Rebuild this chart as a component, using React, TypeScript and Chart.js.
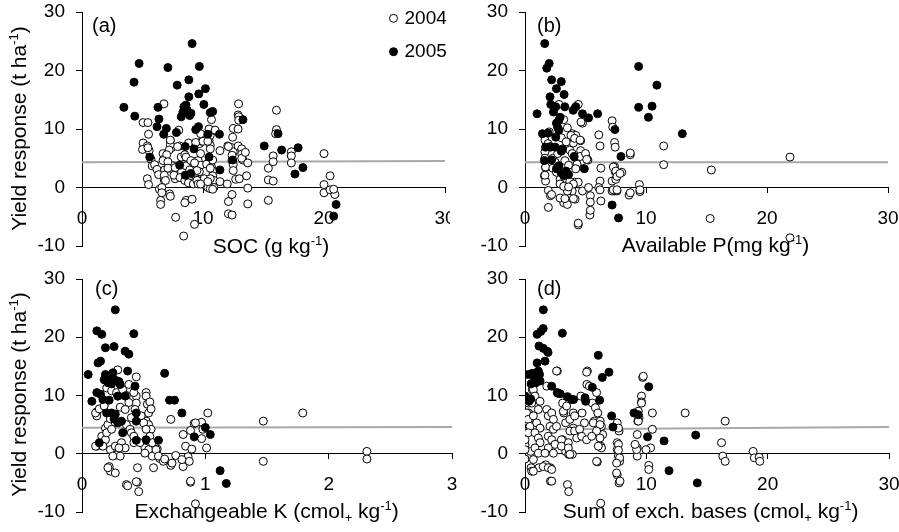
import React, { useEffect, useRef } from "react";
import { Chart, registerables } from "chart.js";
Chart.register(...registerables);

const FONT = '"Liberation Sans", Arial, Helvetica, sans-serif';

type Pt = [number, number];
type Seg = { t: string; s?: "sup" | "sub" };

// ---- tick labels ----
const Y_TICKS = [-10, 0, 10, 20, 30];
const X_TICKS_30 = [0, 10, 20, 30];
const X_TICKS_3 = [0, 1, 2, 3];

// ---- (a) SOC ----
const SOC_2004: Pt[] = [
  [5.05,11.1],[5.45,11.1],[5.5,9.1],[5.05,7.6],[5.4,7.1],[5.0,6.5],[5.55,6.3],[5.7,4.8],[5.8,3.7],[5.4,1.5],[5.5,0.5],[6.0,3.9],[6.2,3.1],[6.33,2.2],[6.4,-0.3],[6.5,-2.2],[6.5,-2.9],[6.7,5.8],[6.75,4.8],[6.83,3.0],[6.8,1.3],[6.8,2.1],[6.77,14.3],[7.24,-1.1],[7.3,8.0],[7.4,6.8],[7.3,7.3],[7.5,3.7],[7.6,2.6],[7.7,1.5],[7.74,-5.1],[8.4,-8.3],[8.0,9.8],[8.07,7.1],[8.2,5.2],[8.5,5.6],[8.6,-2.2],[9.1,-2.0],[9.3,-6.3],[8.6,3.7],[8.9,3.0],[8.7,1.8],[9.0,1.3],[9.4,1.3],[9.3,4.4],[9.6,4.6],[9.8,3.8],[9.7,7.5],[9.9,7.9],[9.8,5.8],[9.8,9.2],[9.7,2.7],[9.7,1.3],[10.1,0.5],[10.1,1.5],[10.3,4.0],[10.4,0.0],[10.5,8.0],[10.6,7.2],[10.6,6.6],[10.6,8.9],[10.5,10.0],[10.7,11.6],[10.7,3.5],[10.8,2.8],[10.8,2.0],[10.9,1.2],[10.9,0.0],[10.8,4.7],[10.6,-0.2],[10.8,-0.3],[11.4,6.3],[11.0,9.7],[11.4,1.0],[12.05,7.1],[12.0,0.6],[12.1,-2.4],[12.1,-4.5],[12.4,-4.7],[12.4,-1.2],[12.45,8.6],[12.5,10.1],[12.4,6.8],[12.5,6.1],[12.4,5.5],[12.4,4.6],[12.5,3.9],[12.5,2.9],[12.94,14.3],[12.9,12.4],[12.9,10.0],[12.9,7.1],[13.2,6.6],[13.2,5.7],[13.3,4.7],[12.7,1.4],[13.0,1.5],[13.6,2.0],[13.7,-0.1],[13.7,-2.8],[15.4,3.3],[15.4,-2.2],[15.4,1.3],[15.8,1.1],[15.8,5.4],[15.8,4.4],[16.07,13.2],[16.07,9.9],[16.0,9.2],[17.3,6.1],[17.3,5.4],[17.3,4.2],[20.0,5.8],[20.0,0.5],[20.0,-0.9],[20.5,2.0],[20.5,-0.4],[20.9,-1.2],[20.8,-0.3],
  [12.95,12.1],[12.95,11.5],[11.0,9.8],[7.3,8.1],[5.45,6.8],[7.2,6.4],[7.9,7.0],[8.8,7.6],[9.4,7.7],[10.0,7.9],[10.4,7.9],[12.1,7.0],[13.2,5.0],[7.0,5.6],[6.7,4.6],[7.1,4.4],[7.1,3.3],[7.7,3.4],[8.6,5.2],[9.0,4.6],[9.3,4.2],[9.5,2.9],[10.6,3.3],[10.6,1.5],[6.9,1.2],[7.6,2.1],[8.1,1.7],[8.5,1.2],[8.8,0.8],[9.2,0.6],[9.5,1.2],[9.6,0.6],[9.8,0.6],[10.4,1.0],[6.6,0.0],[6.6,-0.9],[7.3,-1.5],[8.5,-2.6],[13.7,4.2],[13.5,6.0]
];
const SOC_2005: Pt[] = [
  [3.46,13.7],[4.36,12.2],[4.3,18.0],[4.72,21.2],[6.28,13.7],[6.36,11.7],[6.2,10.4],[5.6,5.2],[6.75,9.1],[6.97,10.1],[7.1,20.5],[7.8,9.4],[7.87,17.5],[8.2,12.1],[8.34,12.9],[8.42,13.8],[8.6,14.1],[8.83,18.4],[8.83,15.5],[9.0,12.7],[9.1,24.6],[8.07,3.8],[8.53,7.0],[8.53,2.1],[9.0,2.4],[9.25,6.6],[9.4,9.9],[9.63,10.4],[9.65,16.0],[9.7,20.7],[10.07,14.2],[10.2,16.9],[10.4,9.1],[10.5,5.2],[10.6,12.8],[10.8,13.0],[11.36,9.1],[11.4,3.0],[12.45,4.7],[13.3,11.6],[15.06,7.1],[16.2,9.2],[16.5,6.4],[17.86,6.8],[17.6,2.3],[18.26,3.4],[21.0,-2.9],[20.8,-4.9],[8.7,13.2],[8.9,12.3]
];
const SOC_TREND: Pt[] = [[0, 4.3], [30, 4.55]];

// ---- (b) Available P ----
const AVP_2004: Pt[] = [
  [1.77,7.5],[1.7,3.4],[1.6,2.0],[1.7,1.1],[1.93,-0.5],[1.93,-3.4],[2.1,-1.4],[2.8,14.2],[4.4,14.2],[3.2,11.6],[4.75,11.0],[3.9,9.2],[4.2,8.9],[4.6,8.0],[4.0,7.6],[4.6,6.3],[5.0,5.6],[5.2,4.7],[4.7,4.5],[4.3,4.0],[4.1,0.9],[4.4,0.9],[4.75,-0.6],[5.25,0.0],[3.9,-0.6],[3.5,-0.6],[3.4,-2.3],[3.2,-2.6],[3.5,-2.9],[4.14,-2.0],[5.4,-1.4],[5.4,-2.5],[4.4,-6.4],[5.36,-4.7],[6.27,-2.3],[6.1,9.0],[6.2,7.1],[6.27,3.3],[6.2,1.1],[6.1,0.0],[7.2,11.4],[7.25,10.3],[7.4,7.7],[7.45,6.9],[7.4,3.6],[7.45,2.7],[7.2,1.1],[7.5,1.4],[7.4,-0.6],[7.2,-0.6],[7.6,-0.6],[8.0,2.6],[8.7,5.6],[8.6,-1.3],[9.45,0.5],[9.5,-0.7],[11.46,7.1],[11.46,3.9],[15.4,3.0],[15.3,-5.3],[21.9,5.2],[21.9,-8.6],
  [4.63,11.2],[3.8,8.9],[4.1,8.4],[4.55,8.1],[1.65,8.1],[1.9,7.5],[2.1,7.0],[1.65,6.1],[1.65,5.0],[1.7,3.5],[1.65,2.1],[2.3,5.0],[2.5,4.3],[2.3,3.3],[2.6,2.6],[2.9,1.4],[3.2,0.6],[3.7,6.4],[3.9,5.8],[4.1,5.2],[4.55,5.3],[5.0,5.8],[5.1,4.8],[3.4,1.5],[3.7,1.0],[4.0,0.6],[2.9,0.6],[3.2,0.2],[3.6,0.1],[2.2,-1.2],[2.9,-1.8],[3.3,-1.9],[4.0,-1.9],[5.4,-3.9],[6.2,-0.4],[7.3,3.5],[7.5,2.8],[7.6,1.9],[7.85,2.4],[7.3,-0.4],[7.6,-0.4],[8.7,5.9],[8.7,-0.9],[9.5,-0.4],[4.4,-6.1],
  [3.0,8.5],[3.4,7.8],[2.7,5.8],[3.3,4.6],[3.6,3.8],[4.2,3.2],[2.0,9.5],[3.5,10.2]
];
const AVP_2005: Pt[] = [
  [1.63,24.6],[1.8,20.4],[2.0,21.2],[2.2,18.4],[3.0,18.1],[2.6,16.9],[3.23,15.9],[2.07,15.5],[1.0,12.6],[2.13,14.2],[2.35,12.9],[2.54,13.8],[3.29,13.8],[3.98,13.2],[4.2,13.8],[4.75,12.6],[5.25,11.9],[6.0,12.6],[9.39,20.7],[10.9,17.5],[9.39,13.7],[10.5,13.9],[10.2,12.0],[13.0,9.2],[7.43,9.9],[7.93,5.3],[7.2,-3.0],[7.73,-5.2],[1.44,9.2],[1.9,9.3],[2.7,10.3],[2.8,9.8],[2.8,11.5],[2.9,12.0],[2.6,11.0],[2.54,8.6],[1.7,6.9],[2.1,6.9],[2.5,6.9],[3.1,6.6],[4.06,5.3],[4.9,3.2],[1.6,4.6],[2.8,3.7],[3.0,2.5],[3.2,2.0],[3.4,2.8],[2.6,3.2],[3.6,2.2],[2.2,4.7],[3.0,6.2]
];
const AVP_TREND: Pt[] = [[0, 4.3], [30, 4.3]];

// ---- (c) Exchangeable K ----
const EXK_2004: Pt[] = [
  [0.12,7.2],[0.12,6.5],[0.12,1.3],[0.16,3.0],[0.19,2.4],[0.22,-2.2],[0.23,-3.0],[0.27,-3.3],[0.29,14.4],[0.36,-5.3],[0.37,-5.5],[0.45,-2.4],[0.45,-4.9],[0.46,-6.5],[0.44,13.2],[0.38,11.9],[0.44,9.9],[0.44,8.7],[0.43,7.6],[0.52,10.5],[0.53,8.5],[0.54,7.0],[0.52,5.6],[0.54,5.0],[0.56,4.2],[0.51,1.0],[0.54,0.7],[0.57,-0.4],[0.58,-2.4],[0.61,0.8],[0.63,-0.8],[0.66,-1.3],[0.72,5.9],[0.76,-0.3],[0.72,-2.0],[0.82,-2.2],[0.82,3.3],[0.84,1.3],[0.86,-0.5],[0.87,-1.3],[0.88,-4.9],[0.88,4.0],[0.92,-8.6],[0.91,5.2],[0.97,5.4],[0.98,4.2],[0.97,2.6],[1.01,1.0],[1.02,7.0],[1.47,5.6],[1.47,-1.3],[1.79,7.0],[2.31,0.4],[2.31,-0.9],
  [0.11,7.0],[0.11,1.3],[0.19,4.4],[0.21,5.0],[0.2,3.6],[0.24,4.2],[0.17,1.3],[0.23,0.7],[0.27,1.3],[0.28,-0.2],[0.31,-0.4],[0.25,-0.4],[0.21,-2.4],[0.29,9.9],[0.32,10.2],[0.42,10.5],[0.36,5.0],[0.39,4.2],[0.4,3.6],[0.42,3.0],[0.42,1.9],[0.32,1.9],[0.35,1.0],[0.3,1.0],[0.48,6.5],[0.5,5.3],[0.52,4.2],[0.55,3.0],[0.57,1.9],[0.6,0.7],[0.52,9.9],[0.55,8.9],[0.56,7.7],[0.47,1.9],[0.51,0.1],[0.62,-0.4],[0.67,-0.9],[0.73,-1.6],[0.81,-1.0],[0.89,0.8],[0.92,5.3],[0.88,-4.7],[0.44,-4.8],
  [0.2,11.3],[0.24,10.8],[0.28,10.5],[0.33,11.0],[0.36,10.0],[0.38,8.8],[0.31,8.0],[0.35,7.6],[0.4,6.2],[0.14,7.7],[0.18,8.2],[0.23,6.0]
];
const EXK_2005: Pt[] = [
  [0.05,13.6],[0.08,9.0],[0.12,21.1],[0.16,20.5],[0.13,15.6],[0.15,15.9],[0.12,10.5],[0.15,10.2],[0.14,1.9],[0.19,18.2],[0.27,24.7],[0.26,18.4],[0.35,17.6],[0.38,17.1],[0.42,20.6],[0.37,14.2],[0.31,11.9],[0.43,11.6],[0.18,12.7],[0.22,13.2],[0.19,13.6],[0.25,13.9],[0.26,12.8],[0.21,12.2],[0.28,12.5],[0.24,12.0],[0.3,12.4],[0.17,9.3],[0.22,9.2],[0.2,7.0],[0.24,7.0],[0.27,6.8],[0.29,9.9],[0.35,9.9],[0.32,5.6],[0.33,3.6],[0.44,7.0],[0.44,5.6],[0.44,2.3],[0.52,2.4],[0.62,2.3],[0.67,13.8],[0.71,9.2],[0.75,9.2],[0.81,7.0],[0.91,2.9],[1.0,4.5],[1.04,3.3],[1.12,-2.9],[1.17,-5.1],[0.26,6.0],[0.29,5.3]
];
const EXK_TREND: Pt[] = [[0, 4.45], [3, 4.6]];

// ---- (d) Sum of exchangeable bases ----
const SEB_2004: Pt[] = [
  [0.0,1.5],[0.0,-0.9],[0.3,8.7],[0.3,7.0],[0.47,6.5],[0.3,5.3],[0.47,0.4],[0.5,-2.4],[0.55,-3.0],[0.6,11.0],[0.74,10.2],[1.15,-2.4],[1.7,-1.9],[2.1,-2.4],[2.1,-4.7],[2.66,14.2],[3.1,8.7],[3.2,7.0],[3.35,5.3],[3.1,2.4],[3.2,1.3],[3.35,0.4],[3.6,-0.1],[3.5,-5.3],[3.6,-6.5],[4.6,9.9],[4.7,7.0],[4.9,5.3],[3.9,-0.1],[5.14,14.2],[5.1,11.9],[5.3,11.6],[5.55,8.7],[5.7,5.6],[5.8,7.9],[6.0,7.0],[5.96,-1.4],[6.2,5.6],[6.3,4.7],[6.4,3.3],[6.24,1.3],[6.3,1.0],[6.24,-8.5],[7.6,5.3],[7.75,3.9],[7.6,1.9],[7.6,0.7],[7.7,-0.4],[7.8,-1.3],[7.6,-3.6],[7.75,-5.0],[9.25,3.3],[9.25,1.0],[9.25,-0.4],[9.3,5.6],[9.4,6.2],[9.7,13.1],[9.6,9.9],[9.6,8.9],[10.2,-2.0],[10.35,1.0],[10.5,7.0],[10.5,4.2],[13.2,7.0],[16.2,1.9],[16.3,-0.4],[16.5,-1.3],[16.5,5.6],[18.8,0.4],[18.9,-0.7],[19.3,-0.6],[19.35,-1.3],
  [0.14,7.0],[0.27,5.9],[0.41,4.7],[0.27,3.6],[0.0,2.4],[0.0,0.7],[0.69,11.0],[0.82,9.9],[0.55,8.7],[1.24,9.0],[1.1,7.6],[0.69,6.5],[0.96,5.3],[1.24,4.4],[0.82,3.6],[1.1,2.7],[1.24,1.9],[0.82,1.0],[1.1,0.1],[0.69,-1.0],[0.69,-3.0],
  [1.79,11.6],[1.79,7.6],[1.92,6.5],[2.2,7.0],[2.34,5.9],[2.06,4.7],[2.34,4.2],[2.6,4.7],[1.92,3.0],[2.2,2.4],[2.47,1.6],[1.92,1.0],[1.65,0.1],[2.34,0.1],[1.5,-2.2],[1.92,-2.4],[2.2,-2.7],[2.2,-4.7],
  [3.16,7.3],[3.43,8.2],[3.98,7.0],[3.7,5.9],[4.1,6.5],[3.98,4.4],[3.7,3.9],[4.1,3.9],[4.5,4.2],[4.26,2.7],[3.57,1.9],[3.0,2.4],[3.0,1.3],[3.57,1.0],[3.7,-0.1],
  [2.6,14.2],[5.08,14.0],[5.9,10.5],[5.63,5.3],[6.18,5.0],[5.9,3.9],[6.18,2.7],[6.04,1.3],[4.67,3.0],[5.08,2.4],[5.5,3.0],[5.9,-1.3],
  [7.7,4.4],[7.7,1.6],[7.7,0.6],[7.8,-0.7],[7.55,-1.6],[7.55,-3.3],[7.83,-4.7],[9.2,0.7],[9.07,1.6],[9.34,5.6],[9.34,7.3],[9.75,13.3],[9.6,8.7],[9.97,0.7],[10.2,-2.7]
];
const SEB_2005: Pt[] = [
  [1.51,24.7],[1.0,20.5],[1.3,21.0],[1.5,21.5],[1.15,18.5],[1.5,18.1],[1.84,17.6],[1.65,15.9],[1.0,15.6],[3.08,20.7],[0.27,13.6],[0.6,13.8],[0.93,13.9],[1.2,13.6],[0.74,12.5],[1.1,12.8],[1.0,13.3],[2.2,11.6],[0.0,9.9],[0.33,9.0],[0.47,9.4],[2.66,10.5],[2.9,10.3],[3.85,9.3],[5.55,11.4],[5.0,9.0],[6.04,16.9],[6.37,13.1],[6.92,14.0],[6.15,9.2],[7.14,6.5],[7.25,4.6],[8.98,7.0],[9.34,6.7],[10.2,11.5],[10.1,2.9],[11.46,2.2],[14.07,3.2],[11.87,-2.9],[14.2,-5.0],[1.9,17.4],[0.5,12.0],[0.9,12.2],[1.24,12.5],[2.7,10.4],[3.5,9.8],[4.0,9.3],[4.95,9.6],[1.1,14.2]
];
const SEB_TREND: Pt[] = [[0, 4.15], [30, 4.6]];

// ---- texts ----
const Y_TITLE: Seg[] = [{ t: "Yield response (t ha" }, { t: "-1", s: "sup" }, { t: ")" }];
const LEGEND_LABELS = ["2004", "2005"];

interface PanelCfg {
  left: number; top: number; width: number; height: number;
  pad: [number, number, number]; // top, right, bottom
  yWidth: number;
  xTicks: number[];
  d04: Pt[]; d05: Pt[]; trend: Pt[];
  label: string; labelPos: [number, number];
  xTitle: Seg[]; xTitlePos: [number, number];
  yTitle?: Seg[];
  legend?: boolean;
}

const PANELS: PanelCfg[] = [
  {
    left: 0, top: 0, width: 450, height: 266, pad: [12, 3, 20], yWidth: 82,
    xTicks: X_TICKS_30, d04: SOC_2004, d05: SOC_2005, trend: SOC_TREND,
    label: "(a)", labelPos: [92, 26.5],
    xTitle: [{ t: "SOC (g kg" }, { t: "-1", s: "sup" }, { t: ")" }], xTitlePos: [271, 253],
    yTitle: Y_TITLE, legend: true,
  },
  {
    left: 450, top: 0, width: 449, height: 266, pad: [12, 11, 20], yWidth: 75,
    xTicks: X_TICKS_30, d04: AVP_2004, d05: AVP_2005, trend: AVP_TREND,
    label: "(b)", labelPos: [87, 26.5],
    xTitle: [{ t: "Available P(mg kg" }, { t: "-1", s: "sup" }, { t: ")" }], xTitlePos: [265.5, 252],
  },
  {
    left: 0, top: 266, width: 460, height: 266, pad: [13, 8, 20], yWidth: 82,
    xTicks: X_TICKS_3, d04: EXK_2004, d05: EXK_2005, trend: EXK_TREND,
    label: "(c)", labelPos: [95, 23.5],
    xTitle: [{ t: "Exchangeable K (cmol" }, { t: "+", s: "sub" }, { t: " kg" }, { t: "-1", s: "sup" }, { t: ")" }], xTitlePos: [266.7, 252],
    yTitle: Y_TITLE,
  },
  {
    left: 450, top: 266, width: 449, height: 266, pad: [13, 10, 20], yWidth: 75,
    xTicks: X_TICKS_30, d04: SEB_2004, d05: SEB_2005, trend: SEB_TREND,
    label: "(d)", labelPos: [87, 23.5],
    xTitle: [{ t: "Sum of exch. bases (cmol" }, { t: "+", s: "sub" }, { t: " kg" }, { t: "-1", s: "sup" }, { t: ")" }], xTitlePos: [260.5, 252],
  },
];

const TICK_SIZE = 19;
const TITLE_SIZE = 21;
const LABEL_SIZE = 20;
const RADIUS = 4;

function drawRich(ctx: CanvasRenderingContext2D, segs: Seg[], cx: number, baseline: number, size: number) {
  const big = `${size}px ${FONT}`;
  const small = `${Math.round(size * 0.64)}px ${FONT}`;
  let total = 0;
  const widths = segs.map((s) => {
    ctx.font = s.s ? small : big;
    const w = ctx.measureText(s.t).width;
    total += w;
    return w;
  });
  let x = cx - total / 2;
  ctx.textAlign = "left";
  ctx.textBaseline = "alphabetic";
  segs.forEach((s, i) => {
    ctx.font = s.s ? small : big;
    const dy = s.s === "sup" ? -size * 0.4 : s.s === "sub" ? size * 0.2 : 0;
    ctx.fillText(s.t, x, baseline + dy);
    x += widths[i];
  });
}

function Panel({ cfg }: { cfg: PanelCfg }) {
  const ref = useRef<HTMLCanvasElement>(null);
  useEffect(() => {
    const canvas = ref.current;
    if (!canvas) return;
    const textPlugin = {
      id: "panelText",
      afterDraw(chart: any) {
        const ctx: CanvasRenderingContext2D = chart.ctx;
        ctx.save();
        ctx.fillStyle = "#000";
        ctx.font = `${LABEL_SIZE}px ${FONT}`;
        ctx.textAlign = "left";
        ctx.textBaseline = "middle";
        ctx.fillText(cfg.label, cfg.labelPos[0], cfg.labelPos[1]);
        drawRich(ctx, cfg.xTitle, cfg.xTitlePos[0], cfg.xTitlePos[1], TITLE_SIZE);
        if (cfg.yTitle) {
          ctx.save();
          ctx.translate(26, 128.5);
          ctx.rotate(-Math.PI / 2);
          drawRich(ctx, cfg.yTitle, 0, 0, TITLE_SIZE);
          ctx.restore();
        }
        if (cfg.legend) {
          const items = [
            { y: 18.3, fill: "#fff" },
            { y: 51.7, fill: "#000" },
          ];
          items.forEach((it, i) => {
            ctx.beginPath();
            ctx.arc(393.5, it.y, RADIUS, 0, Math.PI * 2);
            ctx.fillStyle = it.fill;
            ctx.fill();
            ctx.lineWidth = 1;
            ctx.strokeStyle = "#000";
            ctx.stroke();
            ctx.fillStyle = "#000";
            ctx.font = `${TICK_SIZE}px ${FONT}`;
            ctx.textAlign = "left";
            ctx.textBaseline = "middle";
            ctx.fillText(LEGEND_LABELS[i], 404.5, it.y);
          });
        }
        ctx.restore();
      },
    };
    const xt = cfg.xTicks;
    const toXY = (a: Pt[]) => a.map(([x, y]) => ({ x, y }));
    const chart = new Chart(canvas, {
      type: "scatter",
      data: {
        datasets: [
          {
            type: "line",
            label: "trend",
            data: toXY(cfg.trend),
            borderColor: "#a8a8a8",
            borderWidth: 2,
            pointRadius: 0,
            fill: false,
            order: 3,
          } as any,
          {
            label: LEGEND_LABELS[0],
            data: toXY(cfg.d04),
            backgroundColor: "#ffffff",
            borderColor: "#000000",
            borderWidth: 1,
            pointRadius: RADIUS,
            order: 2,
          },
          {
            label: LEGEND_LABELS[1],
            data: toXY(cfg.d05),
            backgroundColor: "#000000",
            borderColor: "#000000",
            borderWidth: 1,
            pointRadius: RADIUS,
            order: 1,
          },
        ],
      },
      options: {
        animation: false,
        responsive: false,
        maintainAspectRatio: false,
        events: [],
        layout: { padding: { left: 0, top: cfg.pad[0], right: cfg.pad[1], bottom: cfg.pad[2] } },
        plugins: { legend: { display: false }, tooltip: { enabled: false }, title: { display: false } },
        scales: {
          x: {
            type: "linear",
            position: { y: 0 } as any,
            min: xt[0],
            max: xt[xt.length - 1],
            ticks: { stepSize: xt[1] - xt[0], padding: 15, color: "#000", font: { family: FONT, size: TICK_SIZE } },
            grid: { drawOnChartArea: false, drawTicks: true, tickLength: 5, color: "#000", lineWidth: 1 },
            border: { display: true, color: "#000", width: 1 },
            afterFit(s: any) {
              s.paddingLeft = 0;
              s.paddingRight = 0;
            },
          },
          y: {
            type: "linear",
            position: "left",
            min: Y_TICKS[0],
            max: Y_TICKS[Y_TICKS.length - 1],
            ticks: { stepSize: Y_TICKS[1] - Y_TICKS[0], padding: 11, color: "#000", font: { family: FONT, size: TICK_SIZE } },
            grid: { drawOnChartArea: false, drawTicks: true, tickLength: 6, color: "#000", lineWidth: 1 },
            border: { display: true, color: "#000", width: 1 },
            afterFit(s: any) {
              s.width = cfg.yWidth;
              s.paddingTop = 0;
              s.paddingBottom = 0;
            },
          },
        },
      } as any,
      plugins: [textPlugin],
    });
    return () => chart.destroy();
  }, [cfg]);
  return (
    <canvas
      ref={ref}
      width={cfg.width}
      height={cfg.height}
      style={{ position: "absolute", left: cfg.left, top: cfg.top, width: cfg.width, height: cfg.height }}
    />
  );
}

export default function App() {
  return (
    <div style={{ position: "absolute", left: 0, top: 0, width: 899, height: 532, background: "#fff", overflow: "hidden" }}>
      {PANELS.map((p, i) => (
        <Panel key={i} cfg={p} />
      ))}
    </div>
  );
}
